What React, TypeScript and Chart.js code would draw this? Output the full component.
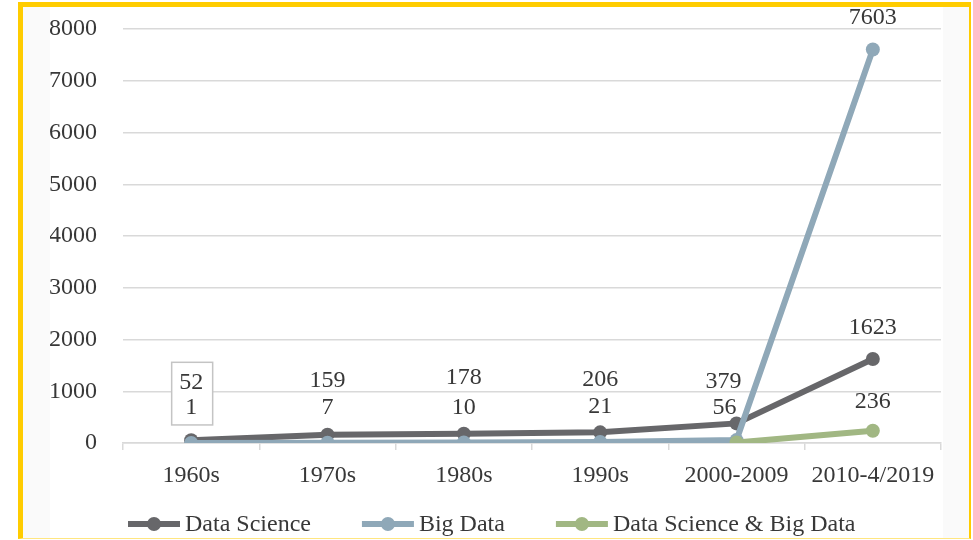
import React, { useEffect, useRef } from "react";
import { Chart, registerables } from "chart.js";

Chart.register(...registerables);

// ---- data ----
const categories = ["1960s", "1970s", "1980s", "1990s", "2000-2009", "2010-4/2019"];
const dataScience = [52, 159, 178, 206, 379, 1623];
const bigData = [1, 7, 10, 21, 56, 7603];
const dataScienceAndBigData: (number | null)[] = [null, null, null, null, 10, 236];
const seriesNames = ["Data Science", "Big Data", "Data Science & Big Data"];
const yMin = 0;
const yMax = 8000;
const yStep = 1000;

// ---- label placement (style, not data) ----
const labelShown = [
  [true, true, true, true, true, true],
  [true, true, true, true, true, true],
  [false, false, false, false, false, true],
];
const labelLift = [
  [58, 54, 56, 53, 42, 31],
  [35, 35, 35, 35, 32, 32],
  [29, 29, 29, 29, 29, 29],
];
const labelShiftX = [
  [0, 0, 0, 0, -13, 0],
  [0, 0, 0, 0, -12, 0],
  [0, 0, 0, 0, 0, 0],
];
const boxedCategory = 0;

const FONT = '"Liberation Serif", "Times New Roman", serif';
const FONT_SIZE = 24;
const TEXT = "#383838";
const GRID = "#d9d9d9";
const COLORS = ["#67676a", "#8fa8b8", "#a1b783"];

const labelPlugin = {
  id: "valueLabels",
  afterDatasetsDraw(chart: any) {
    const ctx: CanvasRenderingContext2D = chart.ctx;
    ctx.save();
    ctx.font = `${FONT_SIZE}px ${FONT}`;
    ctx.textAlign = "center";
    ctx.textBaseline = "middle";

    const m0 = chart.getDatasetMeta(0).data[boxedCategory];
    const m1 = chart.getDatasetMeta(1).data[boxedCategory];
    if (m0 && m1) {
      const cx = m0.x + labelShiftX[0][boxedCategory] + 1;
      const yTop = m0.y - labelLift[0][boxedCategory] - 20;
      const yBot = m1.y - labelLift[1][boxedCategory] + 17;
      const w =
        Math.max(
          ctx.measureText(String(dataScience[boxedCategory])).width,
          ctx.measureText(String(bigData[boxedCategory])).width
        ) + 17;
      ctx.fillStyle = "#ffffff";
      ctx.fillRect(cx - w / 2, yTop, w, yBot - yTop);
      ctx.strokeStyle = "#c4c4c4";
      ctx.lineWidth = 1.5;
      ctx.strokeRect(cx - w / 2, yTop, w, yBot - yTop);
    }

    ctx.fillStyle = TEXT;
    chart.data.datasets.forEach((ds: any, di: number) => {
      const meta = chart.getDatasetMeta(di);
      meta.data.forEach((pt: any, i: number) => {
        const v = ds.data[i];
        if (v === null || v === undefined || !labelShown[di][i]) return;
        ctx.fillText(String(v), pt.x + labelShiftX[di][i], pt.y - labelLift[di][i]);
      });
    });
    ctx.restore();
  },
};

const legendPlugin = {
  id: "lineLegend",
  afterDraw(chart: any) {
    const ctx: CanvasRenderingContext2D = chart.ctx;
    ctx.save();
    ctx.font = `${FONT_SIZE}px ${FONT}`;
    ctx.textBaseline = "middle";
    ctx.textAlign = "left";
    const sample = 52;
    const gapText = 5;
    const gapItem = 51;
    let x = chart.chartArea.left + 5;
    const y = 524;
    chart.data.datasets.forEach((ds: any) => {
      const color = ds.borderColor;
      const w = ctx.measureText(ds.label).width;
      ctx.strokeStyle = color;
      ctx.lineWidth = 6;
      ctx.beginPath();
      ctx.moveTo(x, y);
      ctx.lineTo(x + sample, y);
      ctx.stroke();
      ctx.fillStyle = color;
      ctx.beginPath();
      ctx.arc(x + sample / 2, y, 7, 0, Math.PI * 2);
      ctx.fill();
      ctx.fillStyle = TEXT;
      ctx.fillText(ds.label, x + sample + gapText, y + 1);
      x += sample + gapText + w + gapItem;
    });
    ctx.restore();
  },
};

export default function App() {
  const ref = useRef<HTMLCanvasElement | null>(null);

  useEffect(() => {
    if (!ref.current) return;
    const mk = (label: string, data: (number | null)[], color: string, order: number) => ({
      label,
      data,
      borderColor: color,
      backgroundColor: color,
      borderWidth: 6,
      pointRadius: 7,
      pointBorderWidth: 0,
      pointBackgroundColor: color,
      tension: 0,
      order,
      spanGaps: false,
    });
    const chart = new Chart(ref.current, {
      type: "line",
      data: {
        labels: categories,
        datasets: [
          mk(seriesNames[0], dataScience, COLORS[0], 3),
          mk(seriesNames[1], bigData, COLORS[1], 2),
          mk(seriesNames[2], dataScienceAndBigData, COLORS[2], 1),
        ],
      },
      options: {
        animation: false,
        responsive: false,
        devicePixelRatio: 1,
        layout: { padding: { left: 50, right: 32, top: 29, bottom: 57 } },
        plugins: {
          legend: { display: false },
          tooltip: { enabled: false },
        },
        scales: {
          x: {
            offset: true,
            grid: {
              display: true,
              offset: true,
              drawOnChartArea: false,
              drawTicks: true,
              tickLength: 7,
              color: GRID,
              lineWidth: 1.5,
            },
            border: { display: true, color: GRID, width: 1.5 },
            ticks: {
              color: TEXT,
              font: { family: FONT, size: FONT_SIZE },
              padding: 11,
              maxRotation: 0,
              autoSkip: false,
            },
            afterFit: (s: any) => {
              s.height = 40;
            },
          },
          y: {
            min: yMin,
            max: yMax,
            grid: { color: GRID, lineWidth: 1.5, drawTicks: true, tickLength: 23, tickColor: "rgba(0,0,0,0)" },
            border: { display: false },
            ticks: {
              stepSize: yStep,
              color: TEXT,
              font: { family: FONT, size: FONT_SIZE },
              padding: 3,
              callback: (v: any) => String(v),
            },
            afterFit: (s: any) => {
              s.width = 73;
            },
          },
        },
      },
      plugins: [labelPlugin, legendPlugin],
    });
    return () => chart.destroy();
  }, []);

  return (
    <div style={{ position: "fixed", left: 0, top: 0, width: 973, height: 540, background: "#ffffff" }}>
      <div
        style={{
          position: "absolute",
          left: 18,
          top: 2,
          width: 953,
          height: 537,
          boxSizing: "border-box",
          borderLeft: "5px solid #ffcc00",
          borderTop: "5px solid #ffcc00",
          borderRight: "2px solid #ffcc00",
          borderBottom: "1px solid #ffe680",
          background: "#fafafa",
        }}
      />
      <div style={{ position: "absolute", left: 50, top: 7, width: 893, height: 531, background: "#ffffff" }} />
      <canvas ref={ref} width={973} height={540} style={{ position: "absolute", left: 0, top: 0 }} />
    </div>
  );
}
